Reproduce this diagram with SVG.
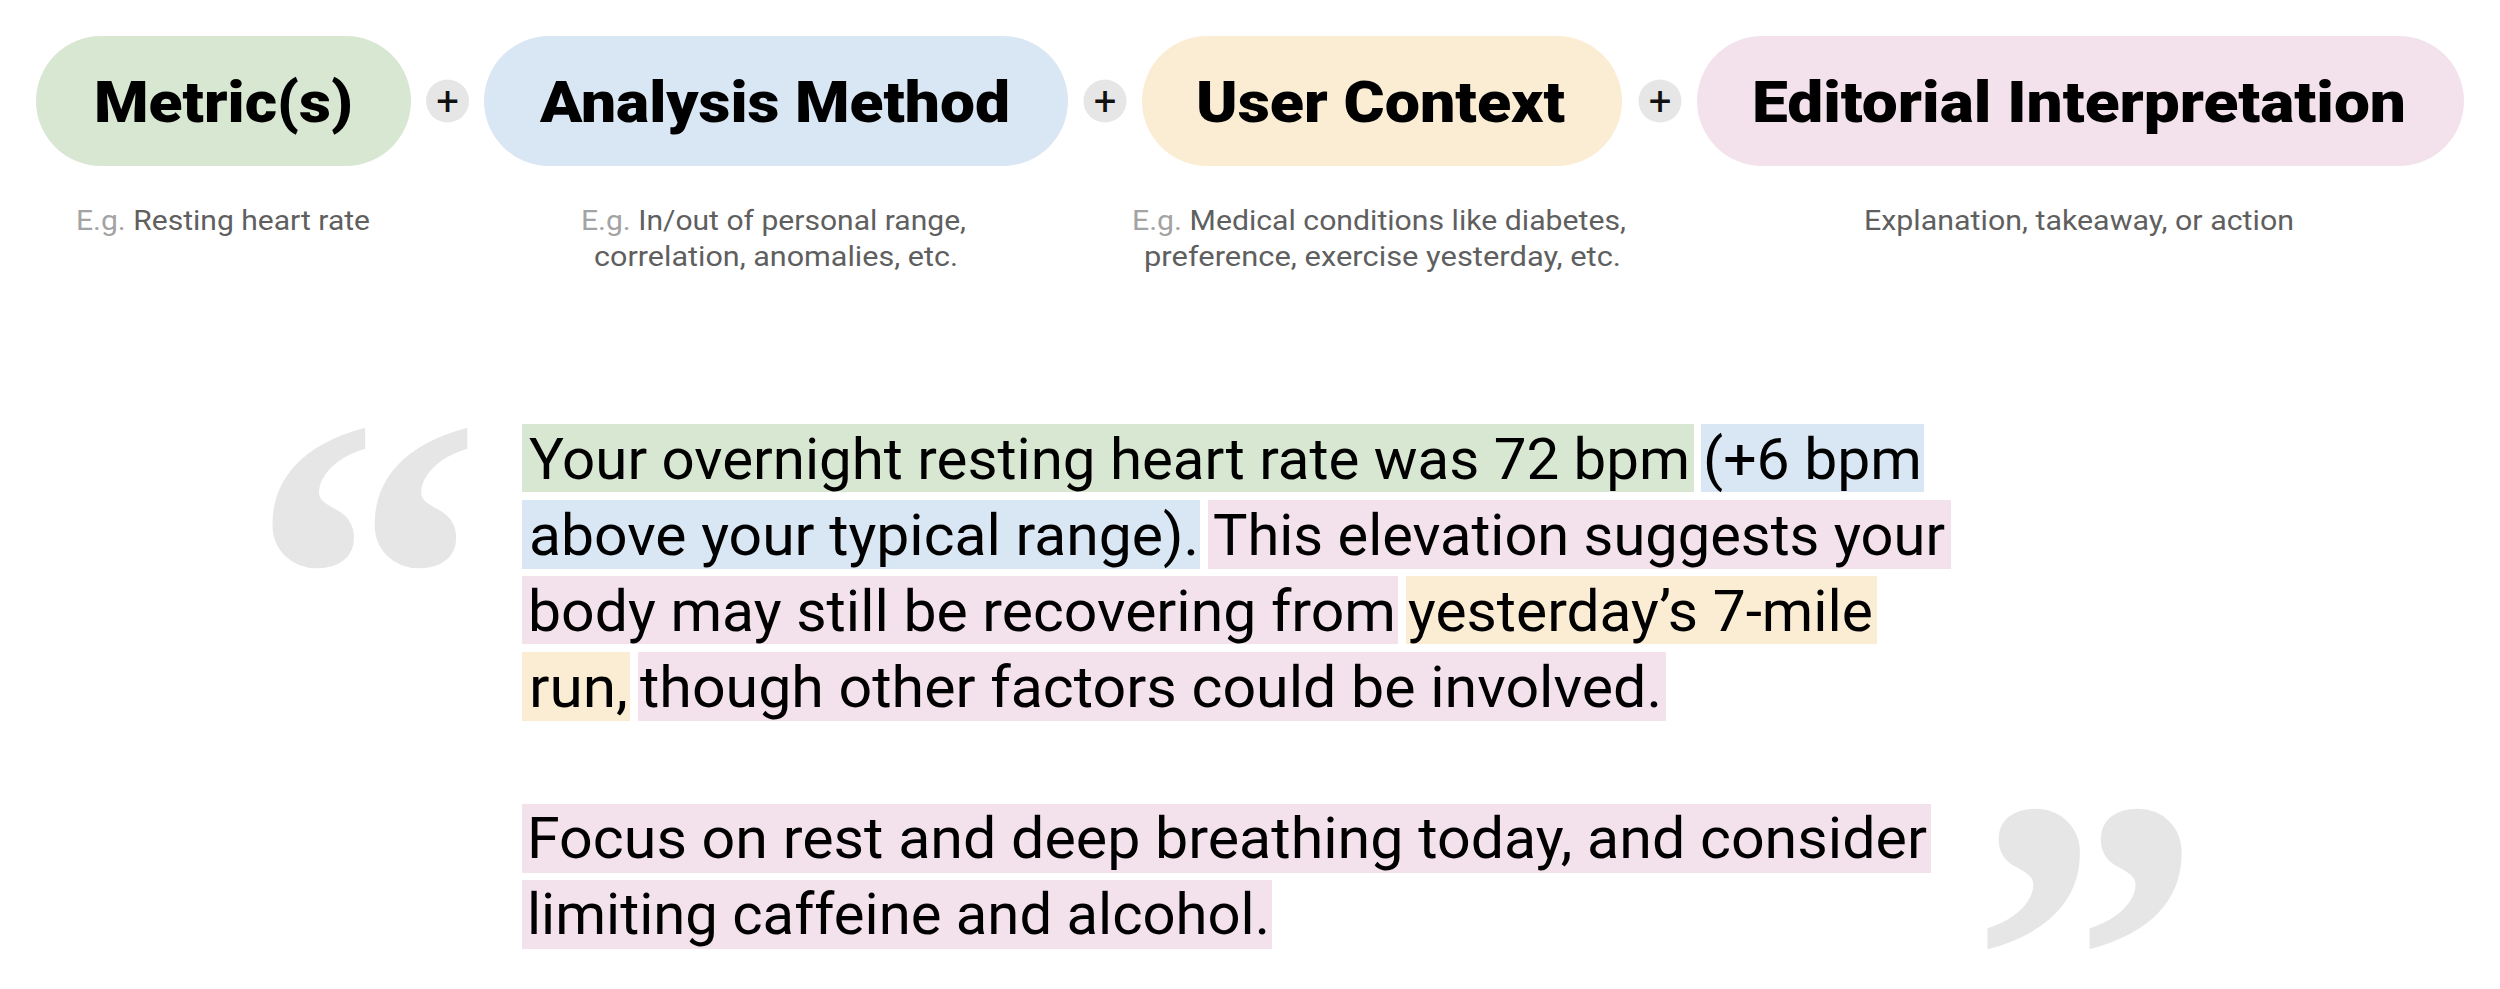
<svg xmlns="http://www.w3.org/2000/svg" width="2500" height="989" viewBox="0 0 2500 989">
<style>
.head{font-family:Roboto,"Liberation Sans",sans-serif;font-weight:900;font-size:58px;fill:#000}
.sub{font-family:Roboto,"Liberation Sans",sans-serif;font-size:28px;fill:#5f5f5f}
.eg{fill:#a3a3a3}
.plus{font-family:Roboto,"Liberation Sans",sans-serif;font-size:40px;fill:#111}
.body{font-family:Roboto,"Liberation Sans",sans-serif;font-size:58px;fill:#000}
.quote{font-family:"Liberation Serif",serif;font-weight:700;font-size:465px;fill:#e6e6e6}
.g{fill:#d8e7d1}.b{fill:#d9e6f3}.y{fill:#fbedd3}.p{fill:#f3e2eb}
.pc{fill:#e6e6e6}
</style>
<rect width="2500" height="989" fill="#fff"/>
<g id="node-metrics">
<rect class="g" x="36" y="36" width="375" height="130" rx="65"/>
<text class="head" x="94" y="122" textLength="259" lengthAdjust="spacingAndGlyphs">Metric(s)</text>
<text class="sub" x="76" y="230" textLength="294" lengthAdjust="spacingAndGlyphs"><tspan class="eg">E.g.</tspan> Resting heart rate</text>
</g>
<g id="node-analysis">
<rect class="b" x="484" y="36" width="584" height="130" rx="65"/>
<text class="head" x="540" y="122" textLength="470" lengthAdjust="spacingAndGlyphs">Analysis Method</text>
<text class="sub" x="581" y="230" textLength="385" lengthAdjust="spacingAndGlyphs"><tspan class="eg">E.g.</tspan> In/out of personal range,</text>
<text class="sub" x="594" y="266" textLength="364" lengthAdjust="spacingAndGlyphs">correlation, anomalies, etc.</text>
</g>
<g id="node-context">
<rect class="y" x="1142" y="36" width="480" height="130" rx="65"/>
<text class="head" x="1196" y="122" textLength="369" lengthAdjust="spacingAndGlyphs">User Context</text>
<text class="sub" x="1132" y="230" textLength="494" lengthAdjust="spacingAndGlyphs"><tspan class="eg">E.g.</tspan> Medical conditions like diabetes,</text>
<text class="sub" x="1144" y="266" textLength="477" lengthAdjust="spacingAndGlyphs">preference, exercise yesterday, etc.</text>
</g>
<g id="node-editorial">
<rect class="p" x="1697" y="36" width="767" height="130" rx="65"/>
<text class="head" x="1752" y="122" textLength="654" lengthAdjust="spacingAndGlyphs">Editorial Interpretation</text>
<text class="sub" x="1864" y="230" textLength="430" lengthAdjust="spacingAndGlyphs">Explanation, takeaway, or action</text>
</g>
<g id="connectors">
<circle class="pc" cx="447.5" cy="101" r="21.5"/>
<text class="plus" x="447.5" y="115" text-anchor="middle">+</text>
<circle class="pc" cx="1105" cy="101" r="21.5"/>
<text class="plus" x="1105" y="115" text-anchor="middle">+</text>
<circle class="pc" cx="1660" cy="101" r="21.5"/>
<text class="plus" x="1660" y="115" text-anchor="middle">+</text>
</g>
<g id="quote">
<text class="quote" x="250" y="737">“</text>
<text class="quote" x="1970" y="1118">”</text>
<rect class="g" x="522" y="424" width="1172" height="68"/>
<rect class="b" x="1701" y="424" width="223" height="68"/>
<rect class="b" x="522" y="500" width="678" height="69"/>
<rect class="p" x="1208" y="500" width="743" height="69"/>
<rect class="p" x="522" y="576" width="876" height="68"/>
<rect class="y" x="1406" y="576" width="471" height="68"/>
<rect class="y" x="522" y="652" width="108" height="69"/>
<rect class="p" x="638" y="652" width="1028" height="69"/>
<rect class="p" x="522" y="804" width="1409" height="69"/>
<rect class="p" x="522" y="880" width="750" height="69"/>
<text class="body" x="529" y="479" textLength="1161" lengthAdjust="spacingAndGlyphs">Your overnight resting heart rate was 72 bpm</text>
<text class="body" x="1703" y="479" textLength="219" lengthAdjust="spacingAndGlyphs">(+6 bpm</text>
<text class="body" x="529" y="555" textLength="670" lengthAdjust="spacingAndGlyphs">above your typical range).</text>
<text class="body" x="1213" y="555" textLength="732" lengthAdjust="spacingAndGlyphs">This elevation suggests your</text>
<text class="body" x="528" y="631" textLength="868" lengthAdjust="spacingAndGlyphs">body may still be recovering from</text>
<text class="body" x="1408" y="631" textLength="465" lengthAdjust="spacingAndGlyphs">yesterday’s 7-mile</text>
<text class="body" x="529" y="707" textLength="99" lengthAdjust="spacingAndGlyphs">run,</text>
<text class="body" x="640" y="707" textLength="1022" lengthAdjust="spacingAndGlyphs">though other factors could be involved.</text>
<text class="body" x="527" y="858" textLength="1400" lengthAdjust="spacingAndGlyphs">Focus on rest and deep breathing today, and consider</text>
<text class="body" x="527" y="934" textLength="743" lengthAdjust="spacingAndGlyphs">limiting caffeine and alcohol.</text>
</g>
</svg>
